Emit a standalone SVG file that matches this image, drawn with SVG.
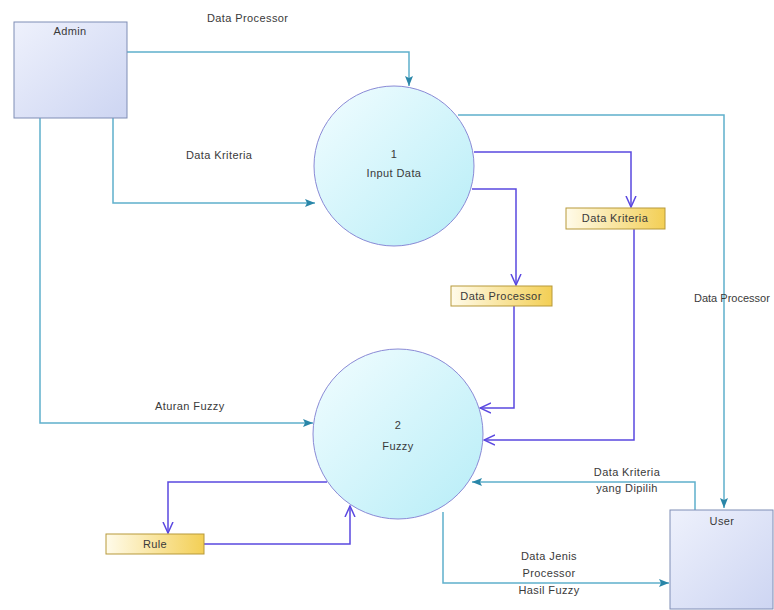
<svg xmlns="http://www.w3.org/2000/svg" width="774" height="610" viewBox="0 0 774 610">
<defs>
<linearGradient id="gEnt" x1="0" y1="0" x2="1" y2="1"><stop offset="0" stop-color="#eef1fc"/><stop offset="1" stop-color="#cdd5f2"/></linearGradient>
<linearGradient id="gProc" x1="0" y1="0" x2="1" y2="1"><stop offset="0" stop-color="#f2fdff"/><stop offset="1" stop-color="#b6edf7"/></linearGradient>
<linearGradient id="gStore" x1="0" y1="0" x2="1" y2="0"><stop offset="0" stop-color="#fffbea"/><stop offset="1" stop-color="#f3cf55"/></linearGradient>
<marker id="aT" viewBox="0 0 10 10" refX="10" refY="5" markerWidth="10" markerHeight="10" markerUnits="userSpaceOnUse" orient="auto"><path d="M0,1 L10,5 L0,9 L2,5 Z" fill="#2a86a8"/></marker>
<marker id="aP" viewBox="0 0 12 12" refX="11" refY="6" markerWidth="12" markerHeight="12" markerUnits="userSpaceOnUse" orient="auto"><path d="M0,1 L11,6 L0,11" fill="none" stroke="#5a48e0" stroke-width="1.5"/></marker>
<style>
.ent{fill:url(#gEnt);stroke:#7f8db5;stroke-width:1}
.proc{fill:url(#gProc);stroke:#8a8ad6;stroke-width:1}
.store{fill:url(#gStore);stroke:#b7993a;stroke-width:1}
.t{font-family:"Liberation Sans",Arial,sans-serif;font-size:11px;letter-spacing:0.4px;fill:#3a3a3a}
.c{text-anchor:middle}
.lt{fill:none;stroke:#5fb0cc;stroke-width:1.5;marker-end:url(#aT)}
.lp{fill:none;stroke:#5a48e0;stroke-width:1.5;marker-end:url(#aP)}
</style>
</defs>
<rect width="774" height="610" fill="#ffffff"/>
<g id="connectors">
<path class="lt" d="M127,52 H409 V86"/>
<path class="lt" d="M113,118 V203 H315"/>
<path class="lt" d="M40,118 V423 H313"/>
<path class="lt" d="M458,115 H724 V508"/>
<path class="lp" d="M474,152 H631 V207"/>
<path class="lp" d="M472,189 H516 V285"/>
<path class="lp" d="M514,306 V408 H480"/>
<path class="lp" d="M634,229 V440 H484"/>
<path class="lp" d="M327,482 H168 V533"/>
<path class="lp" d="M204,544 H350 V506"/>
<path class="lt" d="M695,510 V482 H472"/>
<path class="lt" d="M443,512 V583 H669"/>
<text class="t" x="207" y="22">Data Processor</text>
<text class="t" x="186" y="159">Data Kriteria</text>
<text class="t" x="155" y="410">Aturan Fuzzy</text>
<text class="t" x="694" y="302" style="letter-spacing:0">Data Processor</text>
<text class="t c" x="627" y="476">Data Kriteria</text>
<text class="t c" x="627" y="492">yang Dipilih</text>
<text class="t c" x="549" y="560">Data Jenis</text>
<text class="t c" x="549" y="577">Processor</text>
<text class="t c" x="549" y="594">Hasil Fuzzy</text>
</g>
<g id="admin">
<rect class="ent" x="14" y="22" width="113" height="96"/>
<text class="t c" x="70" y="35">Admin</text>
</g>
<g id="user">
<rect class="ent" x="670" y="510" width="103" height="99"/>
<text class="t c" x="722" y="525">User</text>
</g>
<g id="p1">
<circle class="proc" cx="394" cy="166" r="80"/>
<text class="t c" x="394" y="158">1</text>
<text class="t c" x="394" y="177">Input Data</text>
</g>
<g id="p2">
<circle class="proc" cx="398" cy="434" r="85"/>
<text class="t c" x="398" y="429">2</text>
<text class="t c" x="398" y="450">Fuzzy</text>
</g>
<g id="ds-kriteria">
<rect class="store" x="566" y="208" width="99" height="21"/>
<text class="t c" x="615" y="222">Data Kriteria</text>
</g>
<g id="ds-processor">
<rect class="store" x="451" y="286" width="101" height="20"/>
<text class="t c" x="501" y="300">Data Processor</text>
</g>
<g id="ds-rule">
<rect class="store" x="106" y="534" width="98" height="20"/>
<text class="t c" x="155" y="548">Rule</text>
</g>
</svg>
